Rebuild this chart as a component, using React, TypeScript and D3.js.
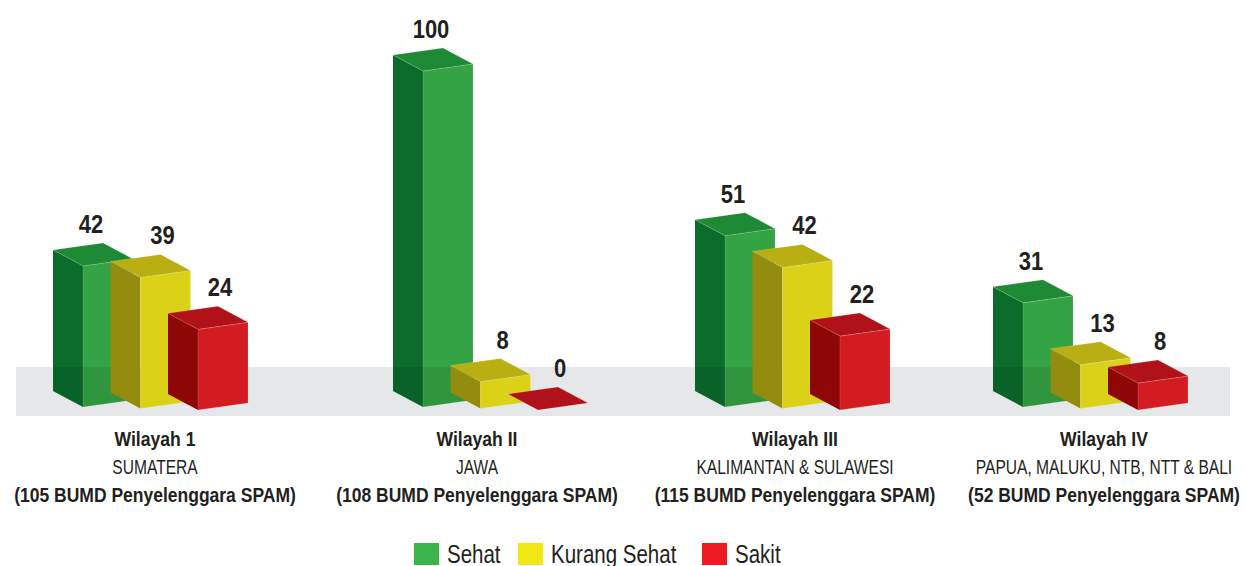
import React from 'react';
import * as d3 from 'd3';

const regions = ['Wilayah 1', 'Wilayah II', 'Wilayah III', 'Wilayah IV'];
const subtitles = ['SUMATERA', 'JAWA', 'KALIMANTAN & SULAWESI', 'PAPUA, MALUKU, NTB, NTT & BALI'];
const bumdCounts = [105, 108, 115, 52];
const series = ['Sehat', 'Kurang Sehat', 'Sakit'];
const sehat = [42, 100, 51, 31];
const kurangSehat = [39, 8, 42, 13];
const sakit = [24, 0, 22, 8];

const W = 1245;
const H = 566;
const FONT = "'Liberation Sans', Arial, sans-serif";
const TEXT = '#231f20';

const faceColors: Record<string, { front: string; side: string; top: string; legend: string }> = {
  Sehat: { front: '#33a343', side: '#0a6b2b', top: '#1f8a36', legend: '#39b54a' },
  'Kurang Sehat': { front: '#dbd117', side: '#948c0e', top: '#b9ae12', legend: '#f1e713' },
  Sakit: { front: '#d31c21', side: '#8f0606', top: '#b11118', legend: '#ec1c24' },
};

const DEPTH_X = 30;
const DEPTH_Y = 16;
const FRONT_W = 50;
const FRONT_SLOPE = 7;

type CTProps = {
  x: number;
  y: number;
  sx: number;
  size: number;
  bold?: boolean;
  anchor?: 'start' | 'middle' | 'end';
  children: React.ReactNode;
};

function CondText({ x, y, sx, size, bold, anchor = 'start', children }: CTProps) {
  return (
    <text
      transform={`translate(${x},${y}) scale(${sx},1)`}
      textAnchor={anchor}
      fontFamily={FONT}
      fontWeight={bold ? 'bold' : 'normal'}
      fontSize={size}
      fill={TEXT}
    >
      {children}
    </text>
  );
}

export default function App() {
  const valuesBySeries: Record<string, number[]> = {
    Sehat: sehat,
    'Kurang Sehat': kurangSehat,
    Sakit: sakit,
  };

  const groupX = d3.scaleOrdinal<string, number>().domain(regions).range([53, 393, 695, 993]);
  const labelX = d3.scaleOrdinal<string, number>().domain(regions).range([155, 477, 795, 1104]);
  const barOffset = d3.scalePoint<string>().domain(series).range([0, 115]);
  const hScale = d3.scaleLinear().domain([0, 100]).range([0, 336]);
  const legendX = d3.scaleOrdinal<string, number>().domain(series).range([414, 518, 702]);

  const bandY0 = 367;
  const bandY1 = 416;

  type Bar = {
    key: string;
    r: string;
    s: string;
    v: number;
    side: string;
    front: string;
    top: string;
    lx: number;
    ly: number;
  };

  const pts = (arr: [number, number][]) => arr.map((p) => p.join(',')).join(' ');

  const bars: Bar[] = [];
  regions.forEach((r, gi) => {
    series.forEach((s, si) => {
      const v = valuesBySeries[s][gi];
      const bx = groupX(r) + (barOffset(s) ?? 0);
      const fx = bx + DEPTH_X;
      const fb = 407 + si * 1.5;
      const ft = fb - hScale(v);
      const side = pts([
        [bx, ft - DEPTH_Y],
        [fx, ft],
        [fx, fb],
        [bx, fb - DEPTH_Y],
      ]);
      const front = pts([
        [fx, ft],
        [fx + FRONT_W, ft - FRONT_SLOPE],
        [fx + FRONT_W, fb - FRONT_SLOPE],
        [fx, fb],
      ]);
      const top = pts([
        [bx, ft - DEPTH_Y],
        [bx + FRONT_W, ft - DEPTH_Y - FRONT_SLOPE],
        [fx + FRONT_W, ft - FRONT_SLOPE],
        [fx, ft],
      ]);
      bars.push({
        key: `${r}-${s}`,
        r,
        s,
        v,
        side,
        front,
        top,
        lx: bx + (s === 'Sehat' ? 38 : 52),
        ly: ft - DEPTH_Y - FRONT_SLOPE - 10,
      });
    });
  });

  const greens = bars.filter((b) => b.s === 'Sehat');
  const others = bars.filter((b) => b.s !== 'Sehat');

  const renderBar = (b: Bar) => {
    const c = faceColors[b.s];
    return (
      <g key={b.key}>
        <polygon points={b.side} fill={c.side} />
        <polygon points={b.front} fill={c.front} stroke="rgba(255,255,255,0.25)" strokeWidth={0.6} />
        <polygon points={b.top} fill={c.top} stroke="rgba(255,255,255,0.25)" strokeWidth={0.6} />
      </g>
    );
  };

  return (
    <svg width={W} height={H} style={{ position: 'absolute', left: 0, top: 0, background: '#fff' }}>
      <defs>
        <clipPath id="bandClip">
          <rect x={16} y={bandY0} width={1230 - 16} height={bandY1 - bandY0} />
        </clipPath>
      </defs>
      <rect x={16} y={bandY0} width={1230 - 16} height={bandY1 - bandY0} fill="#e6e7e8" />
      {greens.map(renderBar)}
      <g clipPath="url(#bandClip)">
        {greens.map((b) => (
          <g key={b.key + '-ov'} fill="#000" fillOpacity={0.08}>
            <polygon points={b.side} />
            <polygon points={b.front} />
          </g>
        ))}
      </g>
      {regions.map((r) => (
        <g key={r + '-bars'}>{others.filter((b) => b.r === r).map(renderBar)}</g>
      ))}
      {bars.map((b) => (
        <CondText key={b.key + '-lbl'} x={b.lx} y={b.ly} sx={0.88} size={25} bold anchor="middle">
          {b.v}
        </CondText>
      ))}
      {regions.map((r, gi) => (
        <g key={r + '-cat'}>
          <CondText x={labelX(r)} y={446} sx={0.88} size={20} bold anchor="middle">
            {r}
          </CondText>
          <CondText x={labelX(r)} y={474} sx={0.76} size={20.5} anchor="middle">
            {subtitles[gi]}
          </CondText>
          <CondText x={labelX(r)} y={502} sx={0.875} size={20} bold anchor="middle">
            {`(${bumdCounts[gi]} BUMD Penyelenggara SPAM)`}
          </CondText>
        </g>
      ))}
      {series.map((s) => (
        <g key={s + '-leg'}>
          <rect x={legendX(s)} y={543} width={25} height={22} fill={faceColors[s].legend} />
          <CondText x={legendX(s) + 33} y={563} sx={0.82} size={25}>
            {s}
          </CondText>
        </g>
      ))}
    </svg>
  );
}
